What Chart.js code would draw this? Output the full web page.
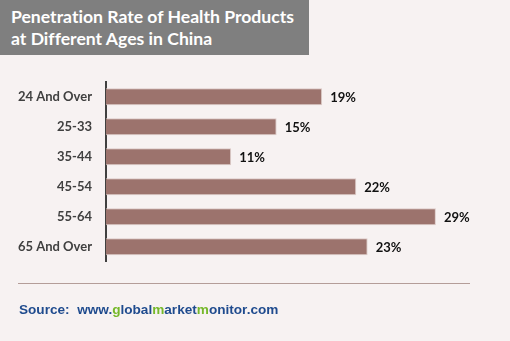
<!DOCTYPE html>
<html>
<head>
<meta charset="utf-8">
<script src="https://cdn.jsdelivr.net/npm/chart.js@4"></script>
<style>
  html, body { margin: 0; padding: 0; background: #f7f2f2; }
  #wrap { position: relative; width: 510px; height: 341px; overflow: hidden; }
  #chart { position: absolute; left: 0; top: 0; }
  #title {
    position: absolute; left: 0; top: 0; width: 298px; height: 49px;
    padding: 6px 0 0 11px; background: #7f7f7f; color: #fff;
    font: bold 17.6px Lato, sans-serif; line-height: 22px;
    font-variant-ligatures: none;
  }
  #rule { position: absolute; left: 18px; top: 283px; width: 452px; height: 1px; background: #b49d99; }
  #source {
    position: absolute; left: 19px; top: 302px; color: #1f4b8e;
    font: bold 13.6px "Liberation Sans", Arial, sans-serif; line-height: 15px; white-space: nowrap;
  }
  #source .g { color: #76b82a; }
</style>
</head>
<body>
<div id="wrap">
  <canvas id="chart" width="510" height="341"></canvas>
  <div id="title">Penetration Rate of Health Products<br>at Different Ages in China</div>
  <div id="rule"></div>
  <div id="source">Source:&nbsp; www.<span class="g">g</span>lobal<span class="g">m</span>arket<span class="g">m</span>onitor.com</div>
</div>
<script>
const ageGroups = ["24 And Over", "25-33", "35-44", "45-54", "55-64", "65 And Over"];
const penetration = [19, 15, 11, 22, 29, 23];

// percent labels to the right of each bar
const valueLabels = {
  id: "valueLabels",
  afterDatasetsDraw(chart) {
    const ctx = chart.ctx;
    const meta = chart.getDatasetMeta(0);
    ctx.save();
    ctx.font = "bold 13px Lato, sans-serif";
    ctx.fillStyle = "#111";
    ctx.textBaseline = "middle";
    meta.data.forEach((bar, i) => {
      ctx.fillText(penetration[i] + "%", bar.x + 8, bar.y + 1);
    });
    ctx.restore();
  },
};

new Chart(document.getElementById("chart").getContext("2d"), {
  type: "bar",
  data: {
    labels: ageGroups,
    datasets: [
      {
        data: penetration,
        backgroundColor: "#9c736d",
        borderColor: "#dccbc8",
        borderWidth: 1,
        categoryPercentage: 1,
        barPercentage: 0.57,
      },
    ],
  },
  options: {
    indexAxis: "y",
    responsive: false,
    animation: false,
    layout: { padding: { left: 0, right: 19.5, top: 81.7, bottom: 79.3 } },
    plugins: { legend: { display: false }, tooltip: { enabled: false } },
    scales: {
      x: { display: false, min: 0, max: 33.8 },
      y: {
        afterFit(scale) { scale.width = 106; },
        grid: { color: "transparent", drawTicks: false },
        border: { display: true, color: "#404040", width: 2 },
        ticks: {
          color: "#404040",
          padding: 14,
          font: { family: "Lato", weight: "bold", size: 13 },
        },
      },
    },
  },
  plugins: [valueLabels],
});
</script>
</body>
</html>
